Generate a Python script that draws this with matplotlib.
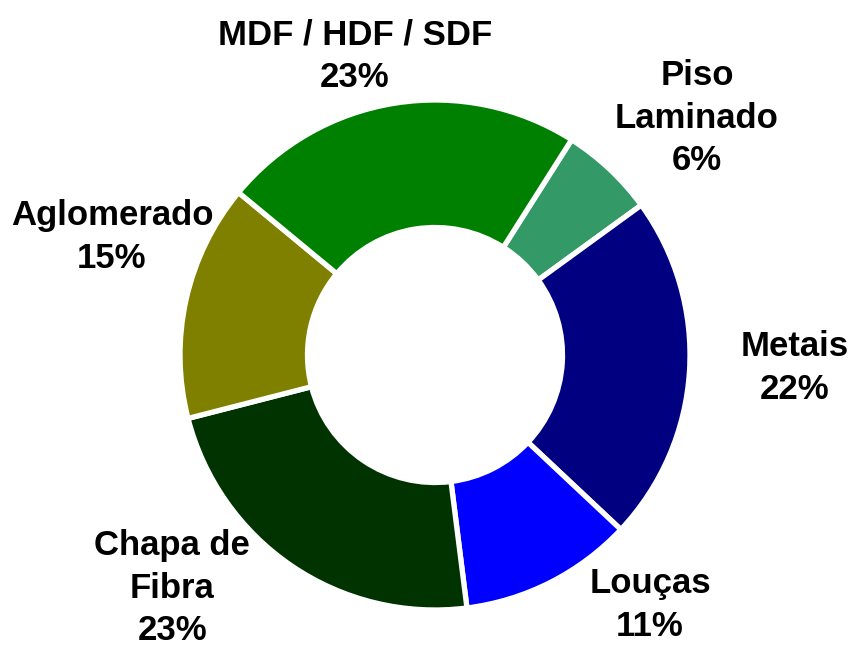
"""
 donut: composição por tipo de material
"""

from matplotlib import pyplot as plt

plt.rcParams['font.family'] = ['Liberation Sans', 'DejaVu Sans']

categorias = ['Piso\nLaminado', 'Metais', 'Louças', 'Chapa de\nFibra', 'Aglomerado', 'MDF / HDF / SDF']
valores = [6, 22, 11, 23, 15, 23]
cores = ['#339966', '#000080', '#0000FF', '#003300', '#808000', '#008000']

# posição dos rótulos (centro do bloco de texto, raio externo = 1)
pos_rotulos = [(1.027, 0.929), (1.412, -0.051), (0.843, -0.980),
               (-1.031, -0.914), (-1.267, 0.463), (-0.314, 1.173)]

fontsize = 25


def plot():
    fig = plt.figure(figsize=(8.54, 6.48), dpi=100)
    ax = fig.add_axes([0, 0, 1, 1])

    ax.pie(valores, colors=cores, startangle=57.6, counterclock=False,
           radius=1.0, wedgeprops=dict(width=0.5, edgecolor='white', linewidth=3.8))

    for nome, v, (x, y) in zip(categorias, valores, pos_rotulos):
        ax.text(x, y, f'{nome}\n{v}%', ha='center', va='center',
                fontsize=fontsize, fontweight='bold', linespacing=1.37)

    ax.set_xlim(-435 / 255, (854 - 435) / 255)
    ax.set_ylim(-(648 - 355) / 255, 355 / 255)
    ax.set_aspect('equal')
    ax.axis('off')

    plt.savefig('out.png', dpi=100)


plot()
